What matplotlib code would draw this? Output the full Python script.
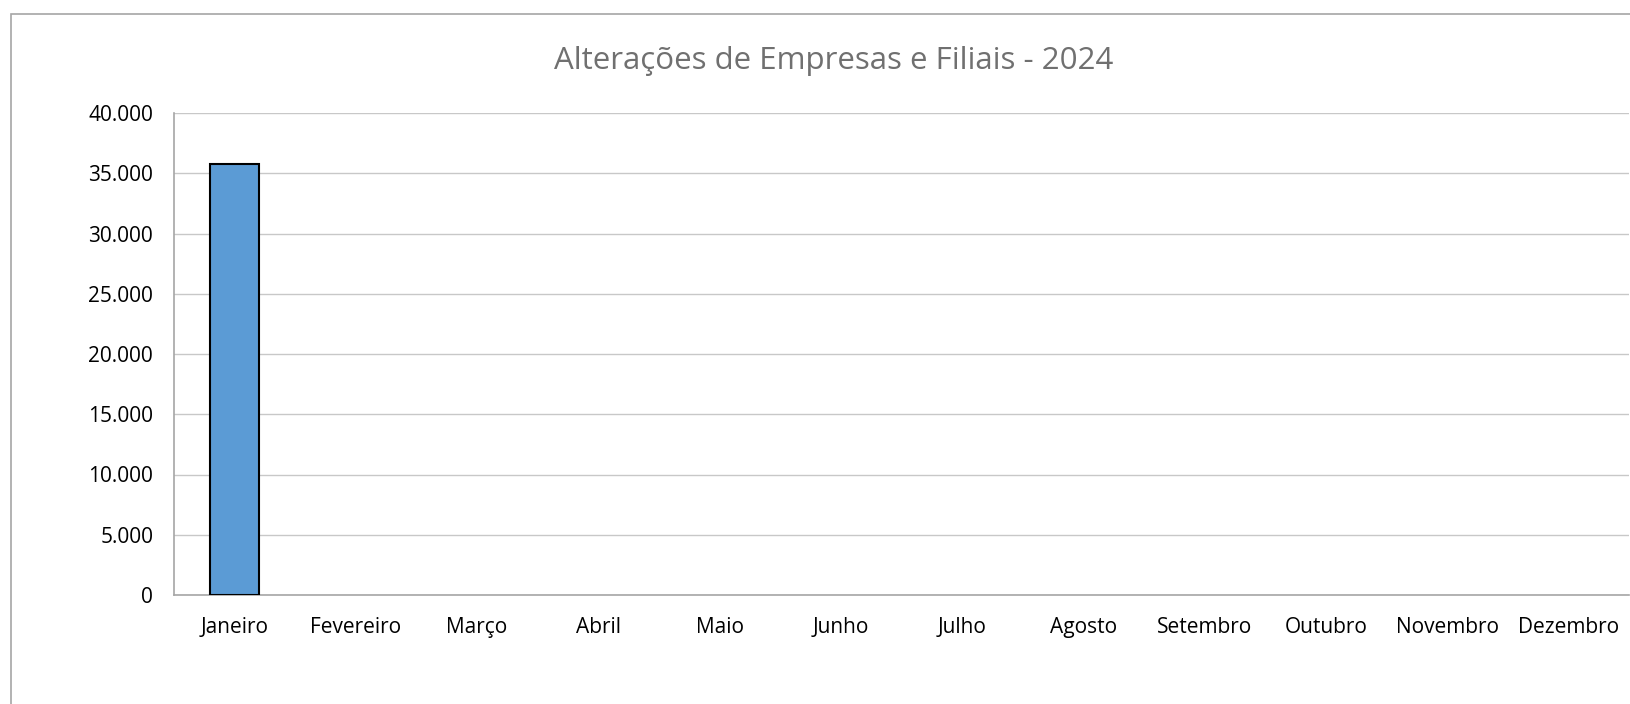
import matplotlib.pyplot as plt
from matplotlib.patches import Rectangle
from matplotlib.ticker import FuncFormatter

# dados do grafico
meses = ['Janeiro', 'Fevereiro', 'Março', 'Abril', 'Maio', 'Junho',
         'Julho', 'Agosto', 'Setembro', 'Outubro', 'Novembro', 'Dezembro']
alteracoes = [35750, 0, 0, 0, 0, 0, 0, 0, 0, 0, 0, 0]
titulo = 'Alterações de Empresas e Filiais - 2024'

plt.rcParams['font.family'] = ['Open Sans', 'DejaVu Sans']

W, H = 1631, 704
fig = plt.figure(figsize=(W / 100, H / 100), dpi=100)
ax = fig.add_axes([174 / W, 1 - 595 / H, (1629 - 174) / W, (595 - 113) / H])

x = range(len(meses))
# barras com valor zero nao sao desenhadas (como no Excel)
larguras = [1.5 if v > 0 else 0 for v in alteracoes]
ax.bar(x, alteracoes, width=0.4, color='#5b9bd5', edgecolor='black', linewidth=larguras, zorder=3)

ax.set_xlim(-0.5, len(meses) - 0.5)
ax.set_ylim(0, 40000)
ax.set_yticks(range(0, 40001, 5000))
ax.yaxis.set_major_formatter(FuncFormatter(lambda v, p: f'{int(v):,}'.replace(',', '.')))
ax.set_xticks(list(x))
ax.set_xticklabels(meses)

ax.grid(axis='y', color='#c8c8c8', linewidth=1, zorder=0)
for s in ['top', 'right']:
    ax.spines[s].set_visible(False)
ax.spines['left'].set_color('#a6a6a6')
ax.spines['bottom'].set_color('#a6a6a6')
ax.spines['left'].set_linewidth(1.2)
ax.spines['bottom'].set_linewidth(1.2)
ax.tick_params(axis='both', length=0, labelsize=15, colors='black')
ax.tick_params(axis='y', pad=15)
ax.tick_params(axis='x', pad=16)

fig.text(834 / W, 1 - 61 / H, titulo, ha='center', va='center', fontsize=22.5, color='#707070')

# moldura do grafico
fig.patches.append(Rectangle((11 / W, -0.1), 1.2, 1 - 14 / H + 0.1, transform=fig.transFigure,
                             fill=False, edgecolor='#a6a6a6', linewidth=1.2))

fig.savefig('out.png', dpi=100)
